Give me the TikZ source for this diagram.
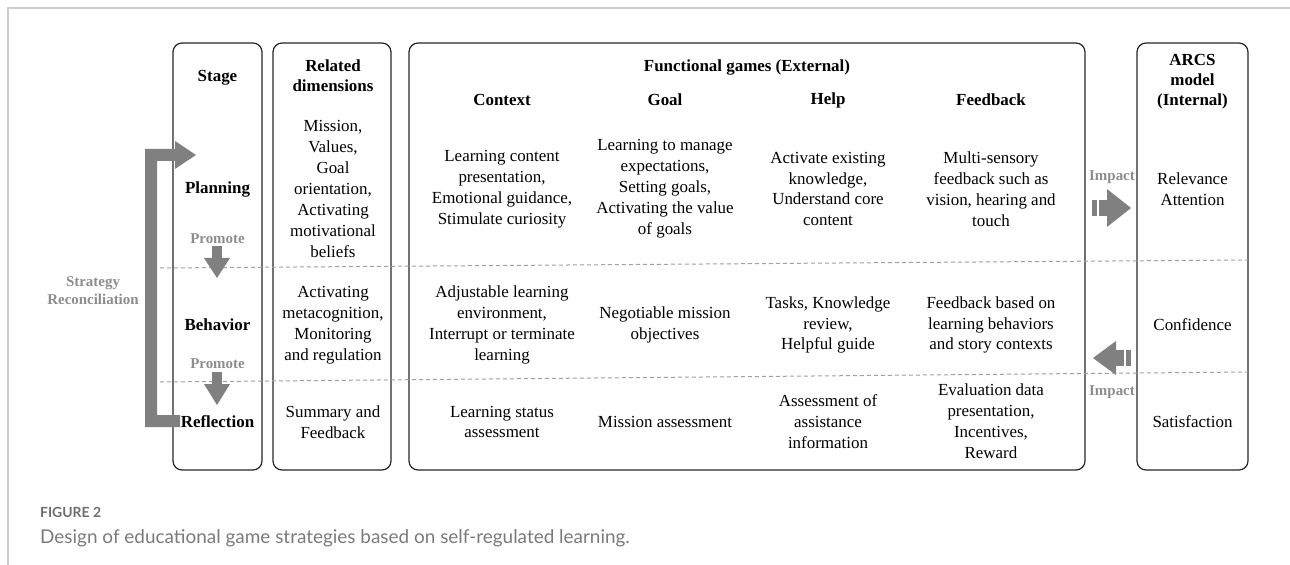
\documentclass[tikz,border=0pt]{standalone}
\usepackage{fontspec}
\setmainfont{Liberation Serif}
\newfontfamily\capfont{Lato}
\definecolor{arrowgray}{HTML}{808080}
\definecolor{labgray}{HTML}{8C8C8C}
\definecolor{dashgray}{HTML}{A0A0A0}
\definecolor{framegray}{HTML}{CCCCCC}
\definecolor{capgray}{HTML}{6E6E6E}
\definecolor{capgrayb}{HTML}{7A7A7A}
\tikzset{
  box/.style={draw=black!85, line width=1.2bp, rounded corners=9bp, inner sep=0pt},
  txt/.style={font=\fontsize{17}{21}\selectfont, align=center, inner sep=0pt},
  hd/.style={font=\fontsize{17}{20}\selectfont\bfseries, align=center, inner sep=0pt},
  glab/.style={font=\fontsize{15}{18}\selectfont\bfseries, text=labgray, align=center, inner sep=0pt},
  dashline/.style={draw=dashgray, line width=1bp, dash pattern=on 4bp off 3bp},
  blockarrow/.style={fill=arrowgray},
}
\begin{document}
\begin{tikzpicture}[x=1bp,y=-1bp]
\useasboundingbox (0,0) rectangle (1290,565);
% frame
\draw[framegray, line width=1.5bp] (8,565) -- (8,8) -- (1290,8);

% boxes
\node[box, minimum width=89bp, minimum height=427bp] (stage) at (217.5,256.5) {};
\node[box, minimum width=118bp, minimum height=427bp] (rel) at (332,256.5) {};
\node[box, minimum width=676bp, minimum height=427bp] (func) at (747,256.5) {};
\node[box, minimum width=111bp, minimum height=427bp] (arcs) at (1192.5,256.5) {};

% dashed separators
\draw[dashline] (160,268) -- (1248,260);
\draw[dashline] (160,382) -- (1248,372);

% headers
\node[hd] (hstage) at (217.5,78) {Stage};
\node[hd] (hrel) at (333,76) {Related\\dimensions};
\node[hd] (hfunc) at (747,67) {Functional games (External)};
\node[hd] (hctx) at (502,100) {Context};
\node[hd] (hgoal) at (665,100) {Goal};
\node[hd] (hhelp) at (828,100) {Help};
\node[hd] (hfb) at (991,100) {Feedback};
\node[hd] (harcs) at (1192.5,82) {ARCS\\model\\(Internal)};

% stage labels
\node[hd] (plan) at (217.5,189) {Planning};
\node[hd] (beh) at (217.5,325) {Behavior};
\node[hd] (refl) at (217.5,422) {Reflection};
\node[glab] (prom1) at (217.5,239) {Promote};
\node[glab] (prom2) at (217.5,364) {Promote};

% related dimensions
\node[txt] (r1) at (333,189) {Mission,\\Values,\\Goal\\orientation,\\Activating\\motivational\\beliefs};
\node[txt] (r2) at (333,325) {Activating\\metacognition,\\Monitoring\\and regulation};
\node[txt] (r3) at (333,422) {Summary and\\Feedback};

% functional games - planning
\node[txt] (c1) at (502,189) {Learning content\\presentation,\\Emotional guidance,\\Stimulate curiosity};
\node[txt] (g1) at (665,189) {Learning to manage\\expectations,\\Setting goals,\\Activating the value\\of goals};
\node[txt] (h1) at (828,189) {Activate existing\\knowledge,\\Understand core\\content};
\node[txt] (f1) at (991,189) {Multi-sensory\\feedback such as\\vision, hearing and\\touch};

% behavior
\node[txt] (c2) at (502,325) {Adjustable learning\\environment,\\Interrupt or terminate\\learning};
\node[txt] (g2) at (665,325) {Negotiable mission\\objectives};
\node[txt] (h2) at (828,325) {Tasks, Knowledge\\review,\\Helpful guide};
\node[txt] (f2) at (991,325) {Feedback based on\\learning behaviors\\and story contexts};

% reflection
\node[txt] (c3) at (502,422) {Learning status\\assessment};
\node[txt] (g3) at (665,422) {Mission assessment};
\node[txt] (h3) at (828,422) {Assessment of\\assistance\\information};
\node[txt] (f3) at (991,421) {Evaluation data\\presentation,\\Incentives,\\Reward};

% ARCS
\node[txt] (a1) at (1192.5,189) {Relevance\\Attention};
\node[txt] (a2) at (1192.5,325) {Confidence};
\node[txt] (a3) at (1192.5,422) {Satisfaction};

% impact labels and arrows
\node[glab] (imp1) at (1112,177) {Impact};
\node[glab] (imp2) at (1112,392) {Impact};
\fill[blockarrow] (1092,200) rectangle (1097,216);
\fill[blockarrow] (1099,200) rectangle (1107,216);
\fill[blockarrow] (1107,189) -- (1131,208) -- (1107,227) -- cycle;
\fill[blockarrow] (1093,358) -- (1116,341) -- (1116,375) -- cycle;
\fill[blockarrow] (1116,350) rectangle (1124,366);
\fill[blockarrow] (1126,350) rectangle (1131,366);

% promote arrows
\fill[blockarrow] (212,246) rectangle (222,258);
\fill[blockarrow] (204,258) -- (230,258) -- (217,278) -- cycle;
\fill[blockarrow] (212,372) rectangle (222,384);
\fill[blockarrow] (204,384) -- (230,384) -- (217,405) -- cycle;

% strategy reconciliation L-arrow
\fill[blockarrow] (180,427) -- (145,427) -- (145,149) -- (175,149) -- (175,141) -- (196,155) -- (175,169) -- (175,161) -- (157,161) -- (157,415) -- (180,415) -- cycle;
\node[glab] (strat) at (93,291) {Strategy\\Reconciliation};

% caption
\node[anchor=west, inner sep=0pt, font=\capfont\fontsize{14}{16}\selectfont\bfseries, text=capgray] (figlab) at (40,512) {FIGURE 2};
\node[anchor=west, inner sep=0pt, font=\capfont\fontsize{19}{22}\selectfont, text=capgrayb] (caption) at (40,538) {Design of educational game strategies based on self-regulated learning.};
\end{tikzpicture}
\end{document}
